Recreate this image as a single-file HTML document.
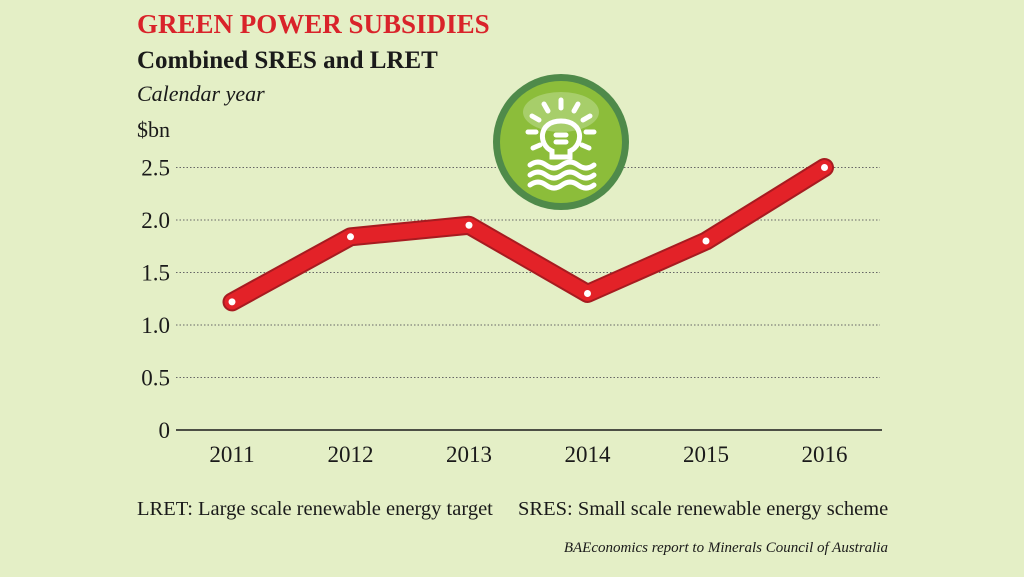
<!DOCTYPE html>
<html><head><meta charset="utf-8">
<style>
body{margin:0;width:1024px;height:577px;background:#e4efc6;overflow:hidden;font-family:"Liberation Serif",serif;}
svg{display:block}
</style></head><body>
<svg id="c" width="1024" height="577">
<text x="137" y="33" font-size="27" font-weight="bold" fill="#d9232a">GREEN POWER SUBSIDIES</text>
<text x="137" y="68" font-size="25" font-weight="bold" fill="#1a1a1a">Combined SRES and LRET</text>
<text x="137" y="101" font-size="22" font-style="italic" fill="#1a1a1a">Calendar year</text>
<text x="137" y="137" font-size="22" fill="#1a1a1a">$bn</text>
<g id="grid"></g>
<g id="icon">
<circle cx="561" cy="142" r="68" fill="#4f8a4a"/>
<circle cx="561" cy="142" r="61" fill="#8cbd3a"/>
<ellipse cx="561" cy="112" rx="38" ry="20" fill="#b9d88a" opacity="0.6"/>
<g stroke="#fff" stroke-width="5" fill="none" stroke-linecap="round">
<path d="M552 157 v-6 c-14 -6 -14 -30 9 -30 c23 0 23 24 9 30 v6 z"/>
<line x1="556" y1="135" x2="566" y2="135"/><line x1="556" y1="142" x2="566" y2="142"/>
<line x1="561" y1="100" x2="561" y2="108"/><line x1="544" y1="104" x2="548" y2="111"/><line x1="578" y1="104" x2="574" y2="111"/>
<line x1="532" y1="116" x2="539" y2="120"/><line x1="590" y1="116" x2="583" y2="120"/>
<line x1="528" y1="132" x2="536" y2="132"/><line x1="594" y1="132" x2="586" y2="132"/>
<line x1="533" y1="148" x2="540" y2="145"/><line x1="589" y1="148" x2="582" y2="145"/>
<path d="M530 165 q8 -6 16 0 t16 0 t16 0 t16 0"/>
<path d="M530 175 q8 -6 16 0 t16 0 t16 0 t16 0"/>
<path d="M530 185 q8 -6 16 0 t16 0 t16 0 t16 0"/>
</g></g>
<g id="series"></g>
<text x="137" y="515" font-size="20.5" fill="#1a1a1a">LRET: Large scale renewable energy target</text>
<text x="518" y="515" font-size="20.5" fill="#1a1a1a">SRES: Small scale renewable energy scheme</text>
<text x="888" y="552" font-size="15" font-style="italic" text-anchor="end" fill="#1a1a1a">BAEconomics report to Minerals Council of Australia</text>
</svg>
<script>
const years=["2011","2012","2013","2014","2015","2016"];
const values=[1.22,1.84,1.95,1.30,1.80,2.50];
const yTicks=[0,0.5,1.0,1.5,2.0,2.5];
const yTickLabels=["0","0.5","1.0","1.5","2.0","2.5"];
const NS="http://www.w3.org/2000/svg";
const yS=v=>430-v*105;
const xS=i=>232+i*118.5;
function mk(t,a,p){const e=document.createElementNS(NS,t);for(const k in a)e.setAttribute(k,a[k]);p.appendChild(e);return e;}
const g=document.getElementById('grid');
yTicks.forEach((v,i)=>{
 const y=yS(v);
 if(v>0){const l=mk('line',{x1:176,x2:880,y1:y,y2:y,stroke:'#666','stroke-width':1,'stroke-dasharray':'1.5,2'},g);
 
 }
 const t=mk('text',{x:170,y:y+8,'font-size':23,'text-anchor':'end',fill:'#1a1a1a'},g);t.textContent=yTickLabels[i];
 
 
});
const ax=mk('line',{x1:176,x2:882,y1:yS(0),y2:yS(0),stroke:'#1a1a1a','stroke-width':1.5},g);


years.forEach((yr,i)=>{
 const t=mk('text',{x:xS(i),y:462,'font-size':23,'text-anchor':'middle',fill:'#1a1a1a'},g);t.textContent=yr;
 
 
});
const s=document.getElementById('series');
const pts=values.map((v,i)=>xS(i)+','+yS(v)).join(' ');
const sh=mk('polyline',{points:pts,fill:'none',stroke:'#a71b20','stroke-width':19,'stroke-linejoin':'round','stroke-linecap':'round'},s);


const ln=mk('polyline',{points:pts,fill:'none',stroke:'#e32228','stroke-width':15,'stroke-linejoin':'round','stroke-linecap':'round'},s);


values.forEach((v,i)=>{
 const c=mk('circle',{cx:xS(i),cy:yS(v),r:3.5,fill:'#fff'},s);
 
 
});
</script>
</body></html>
